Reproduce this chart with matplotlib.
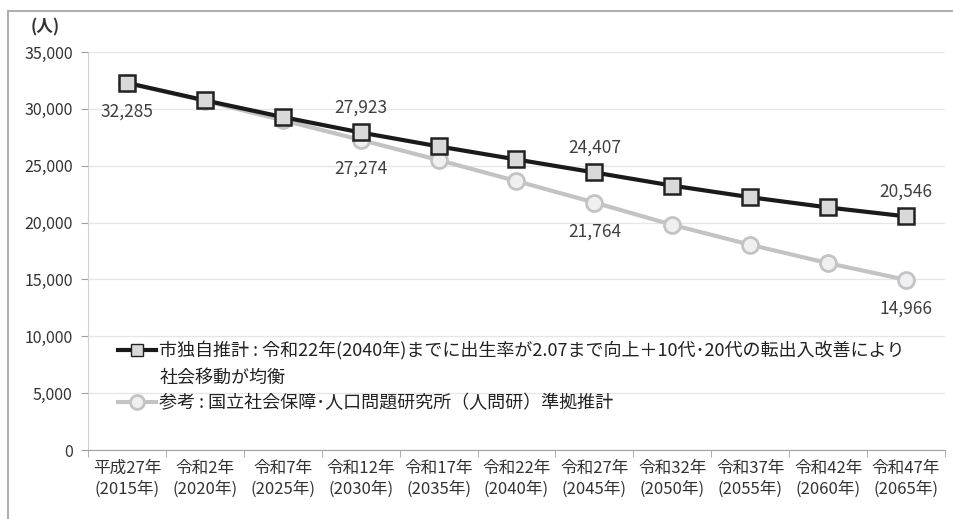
import matplotlib
matplotlib.use('Agg')
import matplotlib.pyplot as plt
from matplotlib.lines import Line2D
from matplotlib.ticker import FuncFormatter, FixedLocator

plt.rcParams['font.family'] = ['Noto Sans CJK JP', 'DejaVu Sans']

# data
years = ['平成27年\n(2015年)', '令和2年\n(2020年)', '令和7年\n(2025年)', '令和12年\n(2030年)',
         '令和17年\n(2035年)', '令和22年\n(2040年)', '令和27年\n(2045年)', '令和32年\n(2050年)',
         '令和37年\n(2055年)', '令和42年\n(2060年)', '令和47年\n(2065年)']
city_est = [32285, 30750, 29280, 27923, 26700, 25550, 24407, 23250, 22230, 21330, 20546]
ipss_est = [32285, 30700, 29000, 27274, 25500, 23650, 21764, 19800, 18050, 16430, 14966]
city_name = ['市独自推計 : 令和22年(2040年)までに出生率が2.07まで向上＋10代･20代の転出入改善により',
             '社会移動が均衡']
ipss_name = '参考 : 国立社会保障･人口問題研究所（人問研）準拠推計'

# which points get a value label
city_labels = [3, 6, 10]
ipss_labels = [0, 3, 6, 10]

fig = plt.figure(figsize=(9.54, 5.19), dpi=100)
ax = fig.add_axes([0.0922, 0.1329, 0.8984, 0.7669])

x = list(range(len(years)))
ax.plot(x, ipss_est, color='#c3c3c3', lw=3, marker='o', ms=11.5,
        mfc='#f0f0f2', mec='#c3c3c3', mew=2, zorder=3)
ax.plot(x, city_est, color='#1a1a1a', lw=3, marker='s', ms=11,
        mfc='#d9d9d9', mec='#222222', mew=1.8, zorder=4)

for i in city_labels:
    ax.annotate(f'{city_est[i]:,}', (x[i], city_est[i]), xytext=(0, 18),
                textcoords='offset points', ha='center', va='center',
                fontsize=12.5, color='#404040')
for i in ipss_labels:
    ax.annotate(f'{ipss_est[i]:,}', (x[i], ipss_est[i]), xytext=(0, -21),
                textcoords='offset points', ha='center', va='center',
                fontsize=12.5, color='#404040')

ax.set_xlim(-0.5, 10.5)
ax.set_ylim(0, 35000)
ax.set_yticks(range(0, 35001, 5000))
ax.yaxis.set_major_formatter(FuncFormatter(lambda v, p: f'{int(v):,}'))
ax.set_xticks(x)
ax.set_xticklabels(years, fontsize=12, color='#333333', linespacing=1.3)
ax.xaxis.set_minor_locator(FixedLocator([i - 0.5 for i in range(len(years) + 1)]))
ax.tick_params(axis='x', which='major', length=0, pad=7)
ax.tick_params(axis='x', which='minor', length=5, color='#a0a0a0')
ax.tick_params(axis='y', labelsize=11.5, colors='#a0a0a0', labelcolor='#333333', length=5, pad=6)

ax.grid(axis='y', color='#e6e6e6', lw=1)
ax.set_axisbelow(True)
for s in ['top', 'right']:
    ax.spines[s].set_visible(False)
ax.spines['left'].set_color('#d0d0d0')
ax.spines['bottom'].set_color('#a0a0a0')

fig.text(0.047, 0.948, '(人)', fontsize=12, fontweight='bold', color='#333333', ha='center', va='center')

handles = [Line2D([], [], color='#1a1a1a', lw=3, marker='s', ms=9, mfc='#d9d9d9', mec='#222222'),
           Line2D([], [], color='none'),
           Line2D([], [], color='#c3c3c3', lw=3, marker='o', ms=10, mfc='#f0f0f2', mec='#c3c3c3', mew=2)]
ax.legend(handles, city_name + [ipss_name], loc='upper left', bbox_to_anchor=(0.02, 0.305),
          frameon=False, fontsize=13, handlelength=2.1, handletextpad=0.2,
          labelspacing=0.45, labelcolor='#222222', borderpad=0.2)

# outer frame (top and left)
fig.add_artist(Line2D([0.008, 1.0], [0.979, 0.979], color='#b0b0b0', lw=1.5))
fig.add_artist(Line2D([0.008, 0.008], [0.0, 0.979], color='#b0b0b0', lw=1.5))

fig.savefig('out.png', dpi=100)
